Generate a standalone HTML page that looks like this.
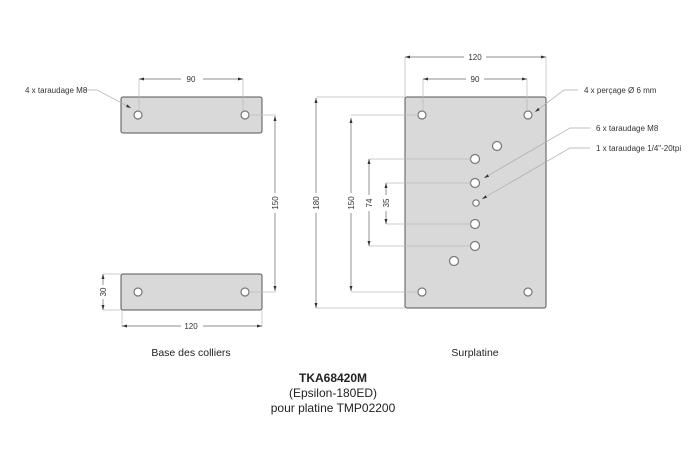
<!DOCTYPE html>
<html><head><meta charset="utf-8"><style>
body{margin:0;background:#fff;}
svg{display:block;font-family:"Liberation Sans",sans-serif;}
</style></head><body>
<svg width="700" height="467" viewBox="0 0 700 467">
<defs>
<marker id="a" markerWidth="6" markerHeight="6" refX="5" refY="3" orient="auto-start-reverse" markerUnits="userSpaceOnUse"><path d="M0,1.5L5,3L0,4.5z" fill="#333"/></marker>
</defs>
<g fill="#d9d9d9" stroke="#555" stroke-width="1">
<rect x="121" y="97" width="141" height="36" rx="2"/>
<rect x="121" y="274" width="141" height="36" rx="2"/>
<rect x="405" y="97" width="141" height="211" rx="2"/>
</g>
<g fill="#fff" stroke="#777" stroke-width="1.2">
<circle cx="138" cy="115" r="4"/><circle cx="245" cy="115" r="4"/>
<circle cx="138" cy="292" r="4"/><circle cx="245" cy="292" r="4"/>
<circle cx="422" cy="115" r="4"/><circle cx="528" cy="115" r="4"/>
<circle cx="422" cy="292" r="4"/><circle cx="528" cy="292" r="4"/>
<circle cx="497" cy="146" r="4.5"/><circle cx="475" cy="159" r="4.5"/>
<circle cx="475" cy="183" r="4.5"/><circle cx="476" cy="203" r="3.2"/>
<circle cx="475" cy="224" r="4.5"/><circle cx="475" cy="246" r="4.5"/>
<circle cx="454" cy="261" r="4.5"/>
</g>
<g stroke="#bbb" stroke-width="0.7" fill="none">
<path d="M139,79V111M243,79V111M249,115H276M249,292H276M103,274H121M103,310H121M122,310V327M262,310V327"/>
<path d="M405,57V97M546,57V97M423,79V111M527,79V111M316,97H405M316,308H405M351,115H418M351,292H418M369,159H471M369,246H471M386,183H471M386,224H471"/>
</g>
<g stroke="#666" stroke-width="0.7" fill="none" marker-start="url(#a)" marker-end="url(#a)">
<path d="M139,79H243"/><path d="M275,116V291"/><path d="M103,274V310"/><path d="M122,326H262"/>
<path d="M405,57H546"/><path d="M423,79H527"/><path d="M316,98V308"/><path d="M351,118V291"/><path d="M369,159V246"/><path d="M386,183V224"/>
</g>
<g stroke="#aaa" stroke-width="0.7" fill="none" marker-end="url(#a)">
<path d="M83,90H97L131,108"/>
<path d="M578,90H564L535,112"/>
<path d="M590,128H570L484,178"/>
<path d="M590,148H570L482,199"/>
</g>
<g font-size="8" fill="#333">
<rect x="181" y="73" width="22" height="11" fill="#fff"/><text x="191" y="82" text-anchor="middle">90</text>
<rect x="270" y="193" width="11" height="20" fill="#fff"/><text transform="translate(278,203) rotate(-90)" text-anchor="middle">150</text>
<rect x="98" y="285" width="11" height="14" fill="#fff"/><text transform="translate(106,292) rotate(-90)" text-anchor="middle">30</text>
<rect x="181" y="320" width="22" height="11" fill="#fff"/><text x="191" y="329" text-anchor="middle">120</text>
<rect x="464" y="51" width="22" height="11" fill="#fff"/><text x="475" y="60" text-anchor="middle">120</text>
<rect x="466" y="73" width="18" height="11" fill="#fff"/><text x="475" y="82" text-anchor="middle">90</text>
<rect x="311" y="193" width="11" height="20" fill="#fff"/><text transform="translate(319,203) rotate(-90)" text-anchor="middle">180</text>
<rect x="346" y="193" width="11" height="20" fill="#fff"/><text transform="translate(354,203) rotate(-90)" text-anchor="middle">150</text>
<rect x="364" y="195" width="11" height="16" fill="#fff"/><text transform="translate(372,203) rotate(-90)" text-anchor="middle">74</text>
<rect x="381" y="195" width="11" height="16" fill="#fff"/><text transform="translate(389,203) rotate(-90)" text-anchor="middle">35</text>
<text x="25" y="93">4 x taraudage M8</text>
<text x="584" y="93">4 x perçage Ø 6 mm</text>
<text x="596" y="131">6 x taraudage M8</text>
<text x="596" y="151">1 x taraudage 1/4"-20tpi</text>
</g>
<g font-size="10.5" fill="#222" text-anchor="middle">
<text x="191" y="356">Base des colliers</text>
<text x="475" y="356">Surplatine</text>
<text x="333" y="382" font-weight="bold" font-size="12">TKA68420M</text>
<text x="333" y="397" font-size="12">(Epsilon-180ED)</text>
<text x="333" y="412" font-size="12">pour platine TMP02200</text>
</g>
</svg>
</body></html>
